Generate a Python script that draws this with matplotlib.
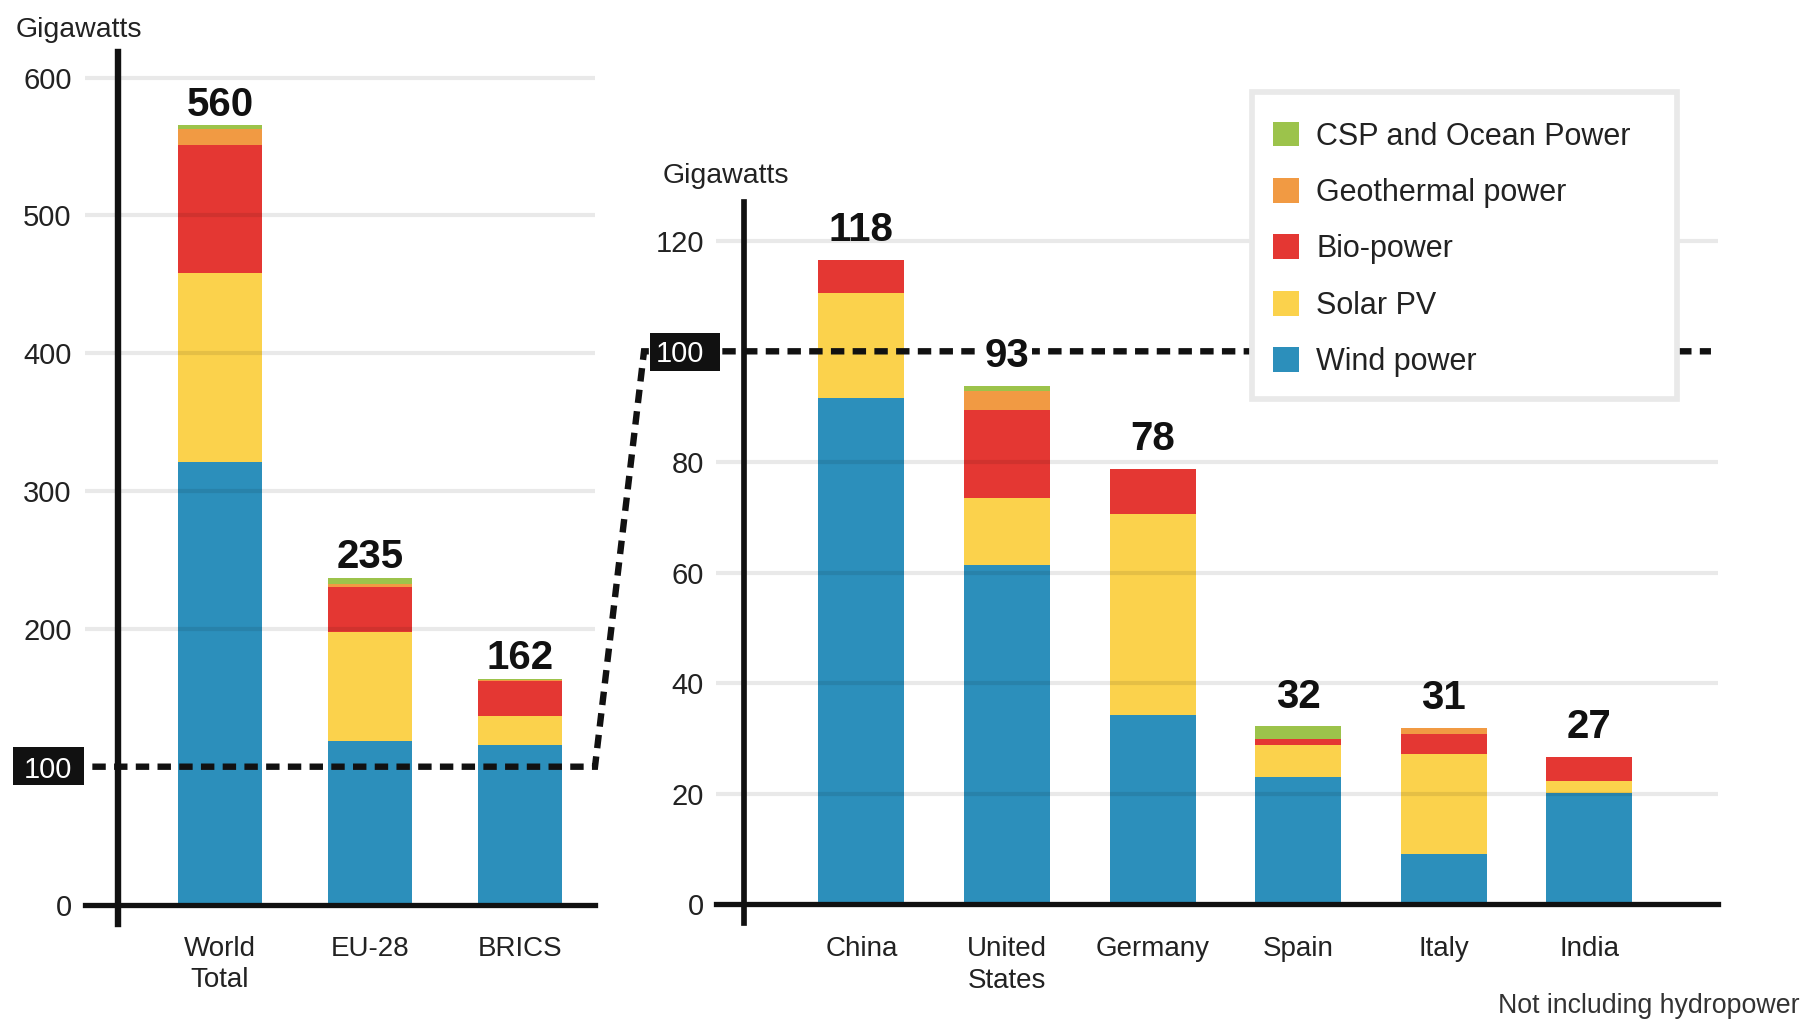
import matplotlib
matplotlib.use('Agg')
import matplotlib.pyplot as plt
import numpy as np
from matplotlib.patches import Patch, Rectangle
from matplotlib.path import Path

plt.rcParams['font.family'] = ['Liberation Sans', 'DejaVu Sans']

# ---------------- data ----------------
series = ['Wind power', 'Solar PV', 'Bio-power', 'Geothermal power', 'CSP and Ocean Power']
colors = ['#2c8fbb', '#fbd24c', '#e43733', '#f19a43', '#9cc34b']

left_cats = ['World\nTotal', 'EU-28', 'BRICS']
left_wind = [321, 119, 116]
left_solar = [137, 79, 20.5]
left_bio = [93, 32.5, 26]
left_geo = [11.5, 1.8, 0.5]
left_csp = [3, 4.9, 0.5]
left_totals = [560, 235, 162]
left_yticks = [0, 100, 200, 300, 400, 500, 600]
left_grid = [200, 300, 400, 500, 600]

right_cats = ['China', 'United\nStates', 'Germany', 'Spain', 'Italy', 'India']
right_wind = [91.5, 61.3, 34.3, 23.1, 9.2, 20.1]
right_solar = [19.0, 12.1, 36.3, 5.8, 18.0, 2.2]
right_bio = [6.0, 15.9, 8.1, 1.1, 3.6, 4.4]
right_geo = [0, 3.5, 0, 0, 1.1, 0]
right_csp = [0, 0.9, 0, 2.2, 0, 0]
right_totals = [118, 93, 78, 32, 31, 27]
right_yticks = [0, 20, 40, 60, 80, 100, 120]
right_grid = [20, 40, 60, 80, 120]

threshold = 100

# ---------------- figure ----------------
W, H = 1807, 1023
fig = plt.figure(figsize=(W / 100, H / 100), dpi=100)
fig.patch.set_facecolor('white')


def add_axes_px(x0, x1, ytop, ybot):
    return fig.add_axes([x0 / W, (H - ybot) / H, (x1 - x0) / W, (ybot - ytop) / H])


axL = add_axes_px(85, 595, 51.5, 923.8)
axR = add_axes_px(715.8, 1717.5, 202.5, 923.3)


def make_box(pl, pr, pt, pb):
    def box(x0, y0, width, height, mutation_size):
        xa, xb = x0 - pl * mutation_size, x0 + width + pr * mutation_size
        ya, yb = y0 - pb * mutation_size, y0 + height + pt * mutation_size
        return Path([(xa, ya), (xb, ya), (xb, yb), (xa, yb), (xa, ya)],
                    [Path.MOVETO, Path.LINETO, Path.LINETO, Path.LINETO,
                     Path.CLOSEPOLY])
    return box


def draw_panel(ax, cats, stacks, totals, width, xlim, ylim, yticks, grid_vals,
               yspine_x, yspine_lw, xspine_lw, ytick_pad, xtick_pad, label_off,
               box_style):
    ax.set_facecolor('none')
    # spines first (moving a spine resets the ticks)
    for s in ('top', 'right'):
        ax.spines[s].set_visible(False)
    ax.spines['left'].set_position(('data', yspine_x))
    ax.spines['bottom'].set_position(('data', 0))
    ax.spines['left'].set_linewidth(yspine_lw)
    ax.spines['bottom'].set_linewidth(xspine_lw)
    for s in ('left', 'bottom'):
        ax.spines[s].set_color('#111')
        ax.spines[s].set_zorder(2.2)

    x = np.arange(len(cats))
    bottom = np.zeros(len(cats))
    for vals, col, name in zip(stacks, colors, series):
        vals = np.asarray(vals, float)
        ax.bar(x, vals, width, bottom=bottom, color=col, edgecolor='none',
               zorder=1, label=name)
        bottom += vals
    for g in grid_vals:
        ax.axhline(g, color='black', alpha=0.085, lw=3.0, zorder=1.8)
    for xi, top, tot in zip(x, bottom, totals):
        t = ax.annotate(str(tot), (xi, top), xytext=(0, label_off),
                        textcoords='offset points', ha='center', va='baseline',
                        fontsize=29, fontweight='bold', color='#111', zorder=4)
        if tot == 93:
            t.set_bbox(dict(facecolor='white', edgecolor='none', pad=2))
    ax.set_xlim(*xlim)
    ax.set_ylim(*ylim)
    ax.set_yticks(yticks, labels=[str(v) for v in yticks])
    ax.set_xticks(x, labels=cats)
    ax.tick_params(axis='y', length=0, pad=ytick_pad, labelsize=21, labelcolor='#222')
    ax.tick_params(axis='x', length=0, pad=xtick_pad, labelsize=20, labelcolor='#222')
    for lbl in ax.get_xticklabels():
        lbl.set_linespacing(1.27)
    for lbl in ax.get_yticklabels():
        if lbl.get_text() == str(threshold):
            lbl.set_color('white')
            lbl.set_bbox(dict(boxstyle=box_style, facecolor='#111', edgecolor='none'))
    ax.yaxis.set_zorder(5)


draw_panel(axL, left_cats, [left_wind, left_solar, left_bio, left_geo, left_csp],
           left_totals, 0.56, (-0.9, 2.5), (-14, 619), left_yticks, left_grid,
           -0.678, 4.6, 3.8, 33.6, 22.5, 7, make_box(0.35, 0.41, 0.29, 0.05))
draw_panel(axR, right_cats, [right_wind, right_solar, right_bio, right_geo, right_csp],
           right_totals, 0.59, (-1.0, 5.88), (-3.4, 126.9), right_yticks, right_grid,
           -0.808, 4.1, 3.8, 28.8, 23, 13.5, make_box(0.2, 0.56, 0.25, 0.09))

# dashed 100 GW reference line with connector from left to right panel
inv = axR.transData.inverted()
pL = inv.transform([axL.transData.transform((-0.851, threshold)),
                    axL.transData.transform((2.5, threshold))])
xs = [pL[0, 0], pL[1, 0], -1.493, 5.835]
ys = [pL[0, 1], pL[1, 1], threshold, threshold]
axR.plot(xs, ys, color='#111', lw=4.6, dashes=(2.1, 1.3), clip_on=False, zorder=3,
         solid_joinstyle='miter', dash_joinstyle='miter', dash_capstyle='butt')

# axis titles
fig.text(16 / W, 1 - 36.7 / H, 'Gigawatts', fontsize=20.5, color='#222', va='baseline')
fig.text(663 / W, 1 - 183.3 / H, 'Gigawatts', fontsize=20.5, color='#222', va='baseline')
fig.text(1800 / W, 1 - 1006 / H, 'Not including hydropower', fontsize=19.3,
         color='#333', ha='right', va='center')

# legend (frame drawn separately so the box and its contents can be placed freely)
frame = Rectangle((1252 / W, 1 - 399 / H), (1676.5 - 1252) / W, (399 - 92) / H,
                  transform=fig.transFigure, facecolor='white', edgecolor='#e9e9e9',
                  linewidth=4.1, zorder=4)
fig.add_artist(frame)
handles = [Patch(facecolor=c, edgecolor='none', label=n)
           for c, n in zip(colors[::-1], series[::-1])]
leg = fig.legend(handles=handles, loc='upper left',
                 bbox_to_anchor=(1273.3 / W, 1 - 121.5 / H),
                 borderaxespad=0, borderpad=0, fontsize=22, frameon=False,
                 handlelength=0.83, handleheight=0.88, handletextpad=0.57,
                 labelspacing=0.865)
leg.set_zorder(5)
for t in leg.get_texts():
    t.set_color('#222')

fig.savefig('out.png', dpi=100, facecolor='white')
